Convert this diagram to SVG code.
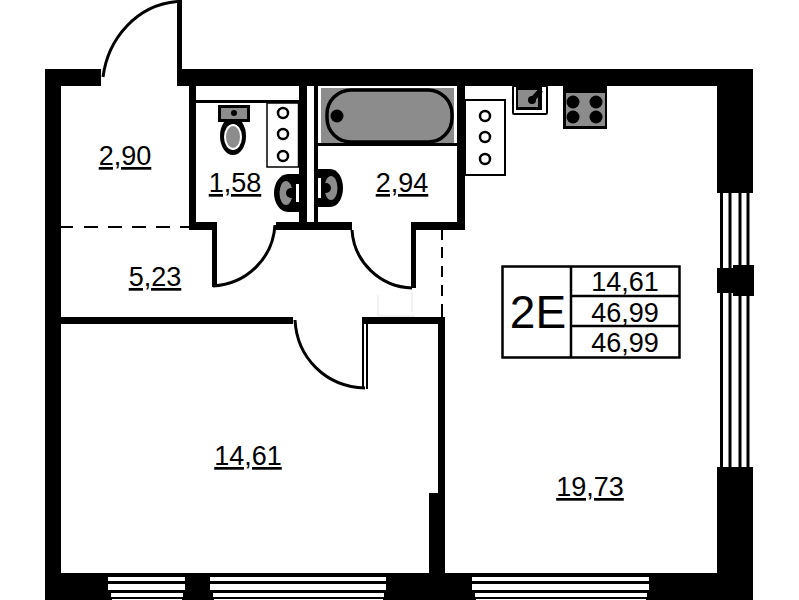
<svg xmlns="http://www.w3.org/2000/svg" width="799" height="600" viewBox="0 0 799 600">
<style>
.w{fill:#000}
.arc{fill:none;stroke:#000;stroke-width:3}
.g{fill:#8c8c8c}
.hole{fill:#fff;stroke:#000;stroke-width:2.5}
.st{fill:#fff}
text{font-family:"Liberation Sans",Arial,sans-serif;fill:#000;text-anchor:middle}
.room{font-size:27px;text-decoration:underline}
.val{font-size:27px}
</style>
<rect width="799" height="600" fill="#fff"/>
<g id="walls">
<rect class="w" x="45" y="69" width="56" height="17"/>
<rect class="w" x="177" y="69" width="576" height="17"/>
<rect class="w" x="45" y="69" width="16" height="531"/>
<rect class="w" x="717" y="69" width="36" height="124"/>
<rect class="w" x="717" y="467" width="36" height="133"/>
<rect class="w" x="45" y="573" width="708" height="27"/>
<rect class="w" x="177" y="0" width="5" height="72"/>
<rect class="w" x="189" y="85" width="7" height="145"/>
<rect class="w" x="299" y="85" width="8" height="145"/>
<rect class="w" x="314" y="85" width="4" height="145"/>
<rect class="w" x="457" y="85" width="8" height="145"/>
<rect class="w" x="192" y="100" width="108" height="3"/>
<rect class="w" x="189" y="222" width="28" height="8"/>
<rect class="w" x="212" y="222" width="5" height="65"/>
<rect class="w" x="276" y="222" width="76" height="8"/>
<rect class="w" x="411" y="222" width="54" height="8"/>
<rect class="w" x="411" y="222" width="5" height="66"/>
<rect class="w" x="61" y="317" width="232" height="7"/>
<rect class="w" x="362" y="317" width="83" height="7"/>
<rect class="w" x="438" y="317" width="7" height="176"/>
<rect class="w" x="429" y="493" width="16" height="80"/>
<rect class="w" x="362" y="320" width="2" height="69"/>
<rect class="w" x="366" y="320" width="2" height="69"/>
<path d="M442 230V240M442 247V258M442 266V277M442 285V296M442 304V318" fill="none" stroke="#000" stroke-width="2"/>
<path d="M61 227H73M84 227H98M108 227H122M132 227H146M156 227H170M180 227H190" fill="none" stroke="#000" stroke-width="2"/>
<path d="M378 295V316H415M412 292V312" fill="none" stroke="#e4e4e4" stroke-width="1"/>
</g>
<g id="windows">
<path class="st" d="M108 577H185V581H108ZM108 584H185V590H108ZM111 593H183V597H111ZM112 599H182V600H112Z"/>
<path class="st" d="M210 577H386V581H210ZM210 584H386V590H210ZM213 593H384V597H213ZM214 599H383V600H214Z"/>
<path class="st" d="M472 577H649V581H472ZM472 584H649V590H472ZM475 593H647V597H475ZM476 599H646V600H476Z"/>
<path d="M721.500 193V467M730 193V467M740 193V467M748 193V467" fill="none" stroke="#000" stroke-width="3"/>
<rect class="w" x="717" y="268" width="16" height="25"/>
<rect class="w" x="733" y="265" width="21" height="31"/>
</g>
<g id="doors">
<path class="arc" d="M103 77C108 38 137 5 177 1.500"/>
<path class="arc" d="M275 225C273 258 247 284 213 286"/>
<path class="arc" d="M352 230C354 262 380 287 412 288"/>
<path class="arc" d="M295 320C297 358 326 387 365 388"/>
</g>
<g id="wc">
<ellipse cx="233" cy="136" rx="13" ry="19" fill="#000"/>
<ellipse cx="233" cy="137" rx="9" ry="13" fill="#fff"/>
<ellipse cx="233" cy="137" rx="7" ry="11" class="g"/>
<rect x="218" y="105" width="32" height="17" fill="#000"/>
<rect class="g" x="221" y="108" width="26" height="11"/>
<circle cx="234" cy="113" r="3" fill="#000"/>
<rect x="267" y="103" width="31.500" height="64" fill="#fff" stroke="#000" stroke-width="1.500"/>
<circle class="hole" cx="283" cy="113" r="5"/>
<circle class="hole" cx="283" cy="134" r="5"/>
<circle class="hole" cx="283" cy="156" r="5"/>
<path d="M299 174H288C280 174 274 183 274 193C274 203 280 212 288 212H299Z" fill="#000"/>
<ellipse class="g" cx="286" cy="193" rx="6.500" ry="12"/>
<circle cx="291" cy="193" r="5" fill="#000"/>
<rect x="296" y="184" width="3" height="18" fill="#fff"/>
</g>
<g id="bath">
<rect class="g" x="321" y="88" width="133" height="55"/>
<rect x="318" y="143" width="139" height="3" fill="#000"/>
<rect x="327" y="90" width="125" height="52" rx="24" fill="#8c8c8c" stroke="#000" stroke-width="3.500"/>
<circle cx="337" cy="116" r="6.500" fill="#000"/>
<path d="M318 169H330C338 169 343 178 343 188C343 198 338 207 330 207H318Z" fill="#000"/>
<ellipse class="g" cx="331" cy="188" rx="6.500" ry="12"/>
<circle cx="326" cy="188" r="5" fill="#000"/>
<rect x="318" y="178" width="3" height="20" fill="#fff"/>
</g>
<g id="kitchen">
<rect x="465" y="100" width="40" height="75" fill="#fff" stroke="#000" stroke-width="2"/>
<circle class="hole" cx="485" cy="116" r="5"/>
<circle class="hole" cx="485" cy="137" r="5"/>
<circle class="hole" cx="485" cy="159" r="5"/>
<rect x="512" y="85" width="36" height="30" rx="2" fill="#000"/>
<rect x="514" y="87" width="32" height="26" fill="#fff"/>
<rect x="516" y="87" width="26" height="23" fill="#000"/>
<rect class="g" x="518" y="90" width="20" height="17"/>
<path d="M532 100L541 90" stroke="#000" stroke-width="5" fill="none"/>
<circle cx="532" cy="100" r="4" fill="#000"/>
<rect x="563" y="85" width="44" height="44" fill="#000"/>
<rect class="g" x="566" y="93" width="39" height="33"/>
<circle cx="573" cy="102" r="6.500" fill="#000"/>
<circle cx="596" cy="102" r="6.500" fill="#000"/>
<circle cx="573" cy="117" r="6.500" fill="#000"/>
<circle cx="596" cy="117" r="6.500" fill="#000"/>
</g>
<g id="labels">
<text class="room" x="125" y="165">2,90</text>
<text class="room" x="235" y="192">1,58</text>
<text class="room" x="402" y="192">2,94</text>
<text class="room" x="155" y="286">5,23</text>
<text class="room" x="248" y="465">14,61</text>
<text class="room" x="590" y="496">19,73</text>
</g>
<g id="legend">
<rect x="502.500" y="266.500" width="177" height="91" fill="#fff" stroke="#000" stroke-width="2.500"/>
<path d="M571 266V358M571 296H680M571 326H680" fill="none" stroke="#000" stroke-width="2.500"/>
<text x="538" y="328" font-size="46">2E</text>
<text class="val" x="625" y="291">14,61</text>
<text class="val" x="625" y="322">46,99</text>
<text class="val" x="625" y="352">46,99</text>
</g>
</svg>
